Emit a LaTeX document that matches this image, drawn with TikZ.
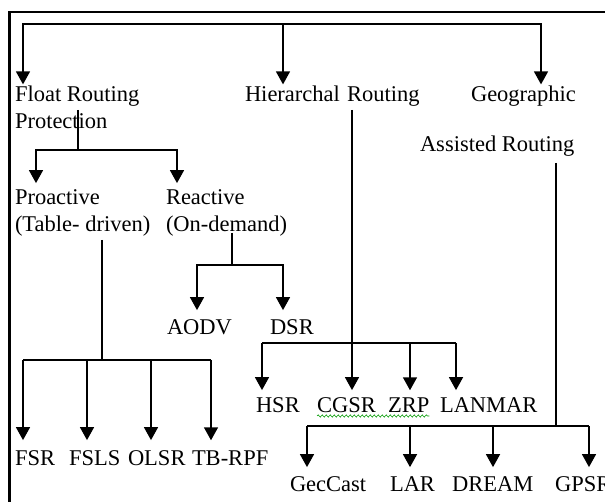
\documentclass[tikz,border=0pt]{standalone}
\usepackage{fontspec}
\setmainfont{Liberation Serif}
\usetikzlibrary{arrows.meta,decorations.pathmorphing}
\begin{document}
\begin{tikzpicture}[x=1pt,y=-1pt,
  lbl/.style={anchor=base west,inner sep=0pt,outer sep=0pt,font=\fontsize{22.5pt}{27pt}\selectfont},
  ln/.style={line width=1.5pt,line join=miter},
  arr/.style={ln,-{Triangle[width=14pt,length=13pt]}},
  frameline/.style={line width=2.4pt},
  squiggle/.style={green!60!black,line width=0.6pt,decorate,decoration={snake,segment length=4pt,amplitude=1.1pt}}]
\useasboundingbox (0,0) rectangle (605,502);

% frame
\draw[frameline] (9.5,505) -- (9.5,12) -- (607,12);

% labels
\node[lbl] (float1) at (15,102) {Float Routing};
\node[lbl] (float2) at (15,129) {Protection};
\node[lbl] (hier) at (245,102) {Hierarchal\hspace{1.5pt} Routing};
\node[lbl] (geo1) at (471,102) {Geographic};
\node[lbl] (geo2) at (420,152) {Assisted Routing};
\node[lbl] (pro1) at (15,205) {Proactive};
\node[lbl] (pro2) at (15,232) {(Table- driven)};
\node[lbl] (rea1) at (166,205) {Reactive};
\node[lbl] (rea2) at (166,232) {(On-demand)};
\node[lbl] (aodv) at (167,335) {AODV};
\node[lbl] (dsr) at (270,335) {DSR};
\node[lbl] (fsr) at (15,465) {FSR};
\node[lbl] (fsls) at (69,465) {FSLS};
\node[lbl] (olsr) at (128,465) {OLSR};
\node[lbl] (tbrpf) at (192,465) {TB-RPF};
\node[lbl] (hsr) at (256,412) {HSR};
\node[lbl] (cgsr) at (317,412) {CGSR};
\node[lbl] (zrp) at (388,412) {ZRP};
\node[lbl] (lanmar) at (440,412) {LANMAR};
\node[lbl] (geccast) at (290,491) {GecCast};
\node[lbl] (lar) at (390,491) {LAR};
\node[lbl] (dream) at (452,491) {DREAM};
\node[lbl] (gpsr) at (555,491) {GPSR};

% spell-check underline
\draw[squiggle] ([yshift=-4pt]cgsr.base west) -- ([yshift=-4pt]zrp.base east);

% top level
\coordinate (t1) at (23,24);
\coordinate (t2) at (283,24);
\coordinate (t3) at (541,24);
\draw[arr,shorten >=2pt] (t2) -- (t1) -- (t1 |- float1.north);
\draw[arr,shorten >=2pt] (t2) -- (t3) -- (t3 |- geo1.north);
\draw[arr,shorten >=2pt] (t2) -- (t2 |- hier.north);

% float routing protection
\coordinate (f0) at (78,110);
\coordinate (f1) at (78,150);
\coordinate (fl) at (36,150);
\coordinate (fr) at (177,150);
\draw[ln] (f0) -- (f1);
\draw[arr,shorten >=7pt] (f1) -- (fl) -- (fl |- pro1.north);
\draw[arr,shorten >=7pt] (f1) -- (fr) -- (fr |- rea1.north);

% reactive
\coordinate (r0) at (232,233);
\coordinate (r1) at (232,265);
\coordinate (ra) at (197,265);
\coordinate (rb) at (283,265);
\draw[ln] (r0) -- (r1);
\draw[arr,shorten >=10pt] (r1) -- (ra) -- (ra |- aodv.north);
\draw[arr,shorten >=10pt] (r1) -- (rb) -- (rb |- dsr.north);

% proactive
\coordinate (p0) at (102,240);
\coordinate (p1) at (102,360);
\coordinate (b1) at (23,360);
\coordinate (b2) at (87,360);
\coordinate (b3) at (151,360);
\coordinate (b4) at (211,360);
\draw[ln] (p0) -- (p1);
\draw[ln] (b1) -- (b4);
\draw[arr,shorten >=10pt] (b1) -- (b1 |- fsr.north);
\draw[arr,shorten >=10pt] (b2) -- (b2 |- fsls.north);
\draw[arr,shorten >=10pt] (b3) -- (b3 |- olsr.north);
\draw[arr,shorten >=10pt] (b4) -- (b4 |- tbrpf.north);

% hierarchal
\coordinate (h0) at (352,110);
\coordinate (d1) at (262,343);
\coordinate (d2) at (410,343);
\coordinate (d3) at (456,343);
\draw[arr,shorten >=7pt] (h0) -- (h0 |- cgsr.north);
\draw[ln] (d1) -- (d3);
\draw[arr,shorten >=7pt] (d1) -- (d1 |- hsr.north);
\draw[arr,shorten >=7pt] (d2) -- (d2 |- zrp.north);
\draw[arr,shorten >=7pt] (d3) -- (d3 |- lanmar.north);

% geographic assisted
\coordinate (g0) at (556,163);
\coordinate (g1) at (556,426);
\coordinate (ga) at (307,426);
\coordinate (gb) at (410,426);
\coordinate (gc) at (493,426);
\coordinate (gd) at (589,426);
\draw[ln] (g0) -- (g1);
\draw[ln] (ga) -- (gd);
\draw[arr,shorten >=9pt] (ga) -- (ga |- geccast.north);
\draw[arr,shorten >=9pt] (gb) -- (gb |- lar.north);
\draw[arr,shorten >=9pt] (gc) -- (gc |- dream.north);
\draw[arr,shorten >=9pt] (gd) -- (gd |- gpsr.north);
\end{tikzpicture}
\end{document}
